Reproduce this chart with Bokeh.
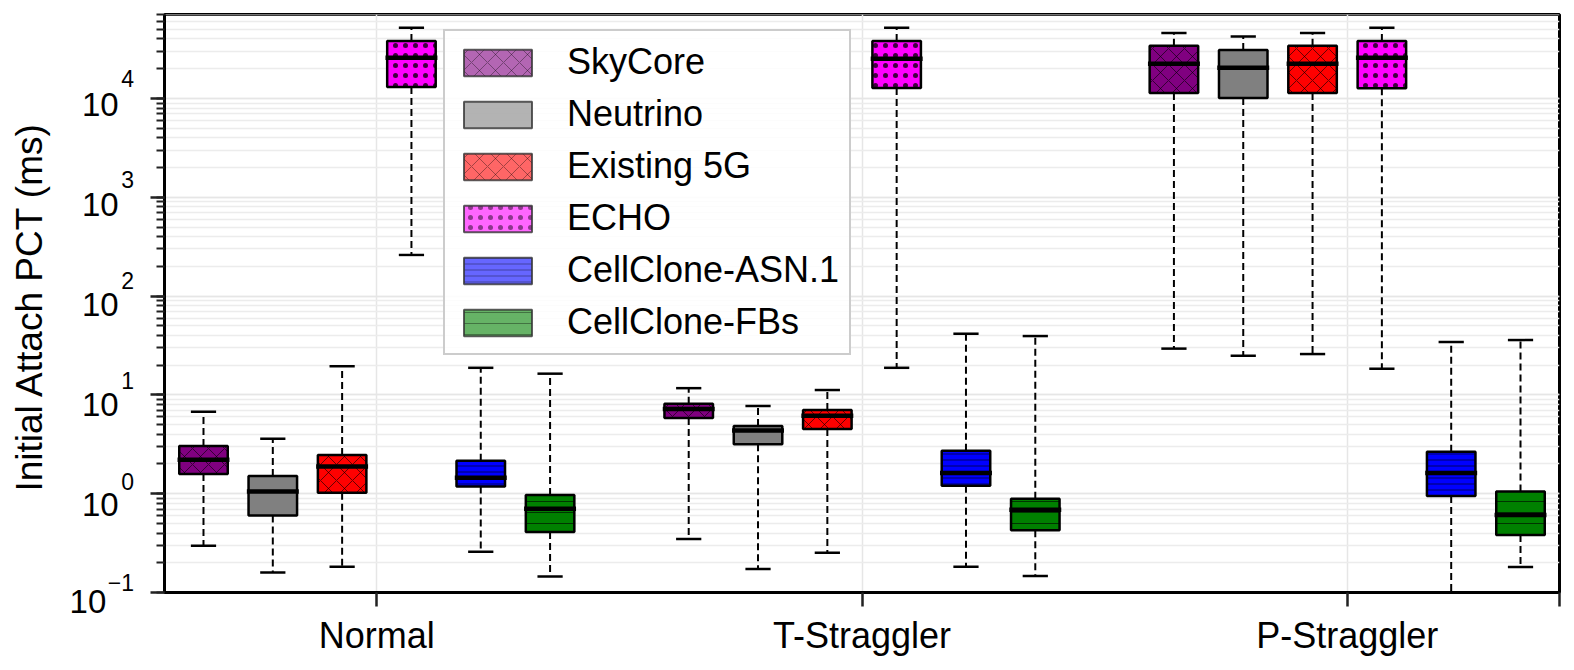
import math
from bokeh.plotting import figure
from bokeh.models import (ColumnDataSource, Legend, LegendItem, FixedTicker,
                          CustomJSTickFormatter, Range1d, Label)
from bokeh.embed import file_html
from bokeh.resources import INLINE

# ---------------- data ----------------
groups = ["Normal", "T-Straggler", "P-Straggler"]
systems = ["SkyCore", "Neutrino", "Existing 5G", "ECHO", "CellClone-ASN.1", "CellClone-FBs"]
colors = ["#800080", "#808080", "#ff0000", "#ff00ff", "#0000ff", "#008000"]
hatches = ["x", None, "x", ".", "-", "-"]
hatch_scales = [16, 12, 16, 10, 6, 11]

# rows = systems, columns = groups (ms)
whisker_low = [
    [0.298, 0.348, 29.4],
    [0.159, 0.173, 24.9],
    [0.182, 0.253, 25.9],
    [261.0, 18.8, 18.4],
    [0.259, 0.182, 0.05],
    [0.145, 0.147, 0.181],
]
q1 = [
    [1.58, 5.84, 11370],
    [0.60, 3.16, 10100],
    [1.02, 4.52, 11370],
    [13070, 12770, 12700],
    [1.18, 1.20, 0.948],
    [0.41, 0.426, 0.382],
]
median = [
    [2.21, 7.2, 22500],
    [1.05, 4.35, 20500],
    [1.88, 6.16, 22500],
    [25900, 25300, 25900],
    [1.45, 1.62, 1.62],
    [0.705, 0.689, 0.608],
]
q3 = [
    [3.04, 8.15, 34200],
    [1.51, 4.84, 30900],
    [2.46, 7.03, 34200],
    [38200, 38200, 38200],
    [2.16, 2.72, 2.66],
    [0.97, 0.89, 1.05],
]
whisker_high = [
    [6.76, 11.7, 46000],
    [3.6, 7.72, 42300],
    [19.5, 11.2, 46000],
    [52100, 52100, 52100],
    [18.8, 41.6, 34.3],
    [16.4, 39.4, 35.9],
]
decades = [-1, 0, 1, 2, 3, 4]
y_title = "Initial Attach PCT (ms)"

# ---------------- layout constants ----------------
FONT = "Liberation Sans"
W, H = 1574, 670
LEFT, TOP, BOTTOM, RIGHT = 164, 14, 78, 15
Y_LO, Y_HI = 0.1, 10 ** 4.85
X0, X1 = -0.4375, 2.4375

p = figure(width=W, height=H, output_backend="svg", toolbar_location=None,
           x_range=Range1d(X0, X1), y_range=Range1d(Y_LO, Y_HI),
           y_axis_type="log",
           min_border_left=LEFT, min_border_right=RIGHT, min_border_top=TOP, min_border_bottom=BOTTOM)
p.background_fill_color = "white"
p.border_fill_color = "white"
p.outline_line_color = "black"
p.outline_line_width = 3
p.outline_line_alpha = 1

n = len(systems)
step = 1.0 / (n + 1)
box_w = 0.1
cap_w = 0.052
med_w = 0.107

legend_items = []
for i, name in enumerate(systems):
    xs = [g + (i - (n - 1) / 2) * step for g in range(len(groups))]
    src = ColumnDataSource(dict(
        x=xs,
        cx0=[x - cap_w / 2 for x in xs], cx1=[x + cap_w / 2 for x in xs],
        mx0=[x - med_w / 2 for x in xs], mx1=[x + med_w / 2 for x in xs],
        low=whisker_low[i], q1=q1[i], med=median[i], q3=q3[i], high=whisker_high[i],
    ))
    p.segment(x0="x", y0="q3", x1="x", y1="high", source=src, line_color="black",
              line_width=2, line_dash="7 4")
    p.segment(x0="x", y0="q1", x1="x", y1="low", source=src, line_color="black",
              line_width=2, line_dash="7 4")
    p.segment(x0="cx0", y0="high", x1="cx1", y1="high", source=src, line_color="black", line_width=2.5)
    p.segment(x0="cx0", y0="low", x1="cx1", y1="low", source=src, line_color="black", line_width=2.5)
    p.vbar(x="x", width=box_w, bottom="q1", top="q3", source=src,
           fill_color=colors[i], line_color="black", line_width=2.5,
           hatch_pattern=hatches[i], hatch_color="black", hatch_alpha=0.75,
           hatch_weight=0.8, hatch_scale=hatch_scales[i])
    p.segment(x0="mx0", y0="med", x1="mx1", y1="med", source=src, line_color="black", line_width=4.5)
    # legend swatch renderer (its single box lies outside the visible x range)
    dummy = p.vbar(x=[X0 - 5], width=box_w, bottom=[1.0], top=[2.0],
                   fill_color=colors[i], fill_alpha=0.6, line_color="#333333", line_alpha=0.8,
                   line_width=2, hatch_pattern=hatches[i], hatch_color="black", hatch_alpha=0.45,
                   hatch_weight=0.8, hatch_scale=hatch_scales[i])
    legend_items.append(LegendItem(label=name, renderers=[dummy]))

# ---------------- axes ----------------
xax = p.xaxis[0]
xax.ticker = FixedTicker(ticks=list(range(len(groups))) + [X1])
xax.formatter = CustomJSTickFormatter(args=dict(names=groups), code="""
    const i = Math.round(tick);
    return (Math.abs(tick - i) < 1e-9 && i >= 0 && i < names.length) ? names[i] : '';
""")
xax.major_label_text_font = FONT
xax.major_label_text_font_size = "36px"
xax.major_label_text_color = "black"
xax.major_label_standoff = 8
xax.major_tick_out = 14
xax.major_tick_in = 0
xax.major_tick_line_width = 2.5
xax.major_tick_line_color = "#222222"
xax.minor_tick_line_color = None
xax.axis_line_width = 3
xax.axis_line_color = "black"

yax = p.yaxis[0]
yax.formatter = CustomJSTickFormatter(code="return '';")
yax.major_label_standoff = 0
yax.major_tick_out = 14
yax.major_tick_in = 0
yax.minor_tick_out = 8
yax.minor_tick_in = 0
yax.major_tick_line_width = 2.5
yax.minor_tick_line_width = 2
yax.major_tick_line_color = "#222222"
yax.minor_tick_line_color = "#222222"
yax.axis_line_width = 3
yax.axis_line_color = "black"

# ---------------- y tick labels 10^k and axis title (left side panel) ----------------
lo_log, hi_log = math.log10(Y_LO), math.log10(Y_HI)
ppd = (H - TOP - BOTTOM) / (hi_log - lo_log)     # pixels per decade
FONT_H = 1.11                                   # line box height of the font, in em
LABEL_RIGHT = 133.5 - LEFT                      # offset from the frame's left edge (px)
BASE_FS, EXP_FS = 33, 23
exp_texts = [str(k).replace("-", "\u2212") for k in decades]
pos_dec = [k for k in decades if k >= 0]
neg_dec = [k for k in decades if k < 0]

# exponents: one multi-line column, right-aligned
p.add_layout(Label(x=X0, y=10 ** ((decades[0] + decades[-1]) / 2), x_offset=LABEL_RIGHT, y_offset=14.5,
                   text="\n".join(reversed(exp_texts)), text_align="right", text_baseline="middle",
                   text_line_height=ppd / (EXP_FS * FONT_H), text_font=FONT,
                   text_font_size=f"{EXP_FS}px", text_color="black"), "left")
# "10" bases for single-character exponents
p.add_layout(Label(x=X0, y=10 ** ((pos_dec[0] + pos_dec[-1]) / 2),
                   x_offset=LABEL_RIGHT - 0.556 * EXP_FS - 2.5, y_offset=-8.5,
                   text="\n".join(["10"] * len(pos_dec)), text_align="right", text_baseline="middle",
                   text_line_height=ppd / (BASE_FS * FONT_H), text_font=FONT,
                   text_font_size=f"{BASE_FS}px", text_color="black"), "left")
# "10" bases for negative exponents (wider exponent text)
for k in neg_dec:
    et = str(k).replace("-", "\u2212")
    ew = (0.584 * (len(et) - 1) + 0.556) * EXP_FS
    p.add_layout(Label(x=X0, y=10.0 ** k, x_offset=LABEL_RIGHT - ew - 1.5, y_offset=-8.5,
                       text="10", text_align="right", text_baseline="middle",
                       text_font=FONT, text_font_size=f"{BASE_FS}px", text_color="black"), "left")
p.add_layout(Label(x=X0, y=10 ** ((lo_log + hi_log) / 2), x_offset=28.5 - LEFT, y_offset=-3,
                   text=y_title, angle=math.pi / 2, text_align="center", text_baseline="middle",
                   text_font=FONT, text_font_size="37px", text_color="black"), "left")

# ---------------- grid ----------------
p.xgrid.ticker = FixedTicker(ticks=list(range(len(groups))))
p.xgrid.grid_line_color = "#e6e6e6"
p.xgrid.grid_line_width = 1.5
p.ygrid.grid_line_color = "#e6e6e6"
p.ygrid.grid_line_width = 1.5
p.ygrid.minor_grid_line_color = "#ececec"
p.ygrid.minor_grid_line_width = 1.5

# ---------------- legend ----------------
legend = Legend(items=legend_items, location=(279, 237), orientation="vertical",
                glyph_width=85, glyph_height=33, label_standoff=27, padding=10,
                spacing=10, margin=0,
                label_text_font=FONT, label_text_font_size="36px", label_text_color="black",
                border_line_color="#cccccc", border_line_width=2.5, border_line_alpha=1,
                background_fill_color="white", background_fill_alpha=0.85)
p.add_layout(legend)

open("out.html", "w").write(file_html(p, INLINE))
